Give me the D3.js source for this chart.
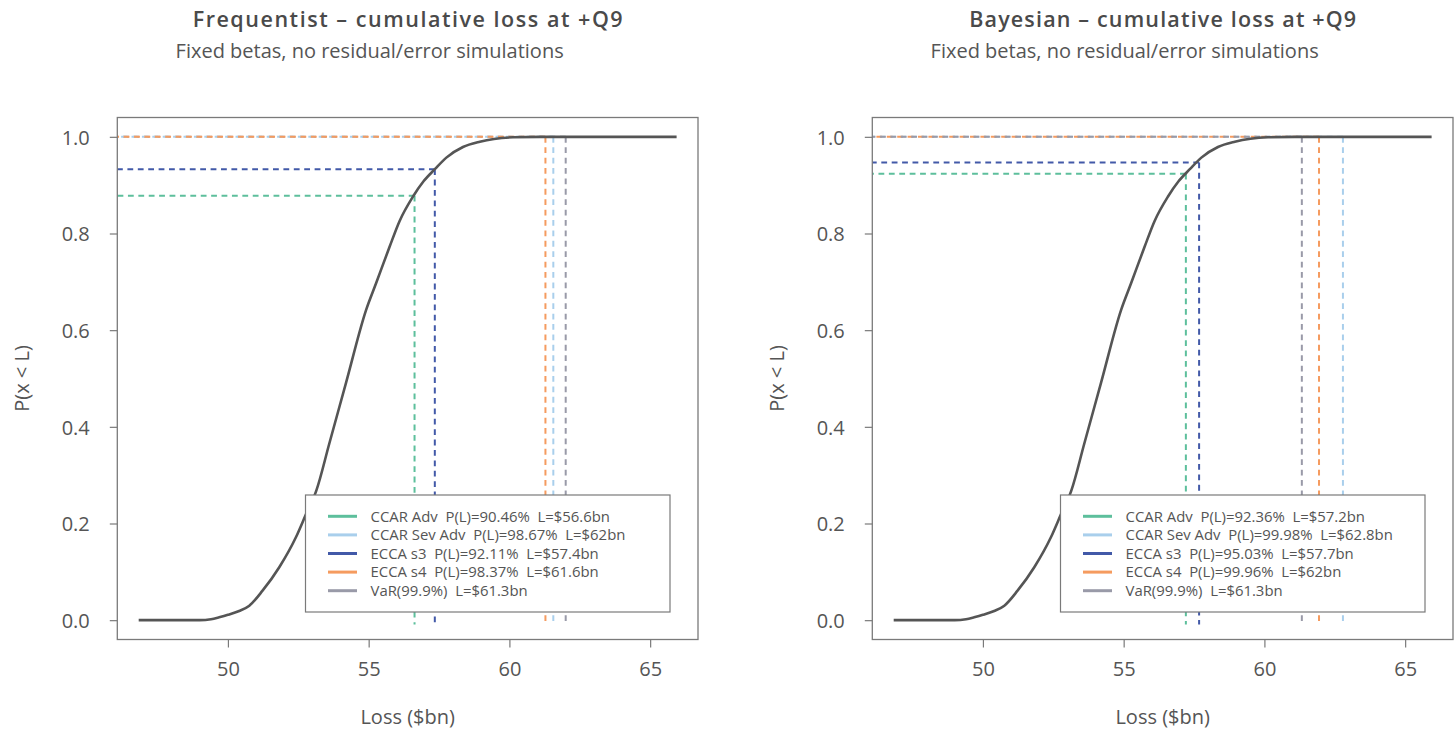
<!DOCTYPE html>
<html><head><meta charset="utf-8">
<script src="https://cdn.jsdelivr.net/npm/d3@7"></script>
<style>
body{margin:0;background:#fff}
text{font-family:"Open Sans",sans-serif}
</style>
</head><body><svg id="c" width="1455" height="734"></svg>
<script>
// ---- data ----
const lossX = [46.83, 48.0, 49.0, 49.4, 49.69, 50.0, 50.4, 50.76, 51.23, 51.83, 52.42, 52.78, 53.14, 53.6, 54.2, 54.91, 55.27, 55.74, 56.10, 56.57, 56.95, 57.35, 57.76, 58.35, 58.95, 60.13, 61.08, 65.94];
const cumP  = [0, 0, 0, 0.002, 0.006, 0.011, 0.019, 0.030, 0.061, 0.110, 0.172, 0.220, 0.268, 0.365, 0.492, 0.642, 0.698, 0.772, 0.826, 0.876, 0.908, 0.933, 0.957, 0.979, 0.990, 0.999, 1.0, 1.0];
const xTicks = [50, 55, 60, 65];
const yTicks = [0, 0.2, 0.4, 0.6, 0.8, 1.0];
const yTickLabels = ["0.0", "0.2", "0.4", "0.6", "0.8", "1.0"];
const legendColors = ["#5dbf9c", "#a9cfec", "#4259a8", "#f59b5f", "#999aa8"];

const freqTitle = "Frequentist \u2013 cumulative loss at +Q9";
const bayesTitle = "Bayesian \u2013 cumulative loss at +Q9";
const subTitle = "Fixed betas, no residual/error simulations";

const freqLegend = ["CCAR Adv  P(L)=90.46%  L=$56.6bn", "CCAR Sev Adv  P(L)=98.67%  L=$62bn", "ECCA s3  P(L)=92.11%  L=$57.4bn", "ECCA s4  P(L)=98.37%  L=$61.6bn", "VaR(99.9%)  L=$61.3bn"];
const bayesLegend = ["CCAR Adv  P(L)=92.36%  L=$57.2bn", "CCAR Sev Adv  P(L)=99.98%  L=$62.8bn", "ECCA s3  P(L)=95.03%  L=$57.7bn", "ECCA s4  P(L)=99.96%  L=$62bn", "VaR(99.9%)  L=$61.3bn"];

// reference markers as drawn (loss, probability, colour)
const freqMarkL = [56.63, 57.35, 62.0, 61.56, 61.28];
const freqMarkP = [0.878, 0.933, 1.0, 1.0, 1.0];
const freqMarkC = ["#5dbf9c", "#4259a8", "#999aa8", "#a9cfec", "#f59b5f"];
const bayesMarkL = [57.21, 57.68, 62.79, 61.94, 61.33];
const bayesMarkP = [0.9236, 0.947, 1.0, 1.0, 1.0];
const bayesMarkC = ["#5dbf9c", "#4259a8", "#a9cfec", "#f59b5f", "#999aa8"];

const xDomain = [46.07, 66.70];
const yDomain = [-0.04, 1.04];
const markBottom = -0.009;

// ---- drawing ----
const svg = d3.select("#c");
const txt = "#555";

function panel(ox, title, titleWidth, legend, mL, mP, mC) {
  const L = ox, R = ox + 580.7, T = 117.5, B = 639.5;
  const x = d3.scaleLinear().domain(xDomain).range([L, R]);
  const y = d3.scaleLinear().domain(yDomain).range([B, T]);
  const g = svg.append("g");
  const cx = (L + R) / 2;

  g.append("text").attr("x", cx).attr("y", 27).attr("text-anchor", "middle")
    .attr("font-size", 21.5).attr("font-weight", 600).attr("fill", "#4a4a4a")
    .attr("textLength", titleWidth).attr("lengthAdjust", "spacing").text(title);
  g.append("text").attr("x", cx - 38).attr("y", 58).attr("text-anchor", "middle")
    .attr("font-size", 20).attr("fill", txt).text(subTitle);

  // reference lines: horizontal (drawn from marker leftwards) and vertical
  mL.forEach((v, i) => {
    g.append("path").attr("d", d3.line()([[x(v), y(mP[i])], [L, y(mP[i])]]))
      .attr("stroke", mC[i]).attr("stroke-width", 2).attr("fill", "none")
      .attr("stroke-dasharray", "5.8,4.6");
  });
  mL.forEach((v, i) => {
    g.append("path").attr("d", d3.line()([[x(v), y(mP[i])], [x(v), y(markBottom)]]))
      .attr("stroke", mC[i]).attr("stroke-width", 2).attr("fill", "none")
      .attr("stroke-dasharray", "5.8,4.6");
  });

  // cumulative curve
  const pts = lossX.map((d, i) => [d, cumP[i]]);
  g.append("path").datum(pts)
    .attr("d", d3.line().x(d => x(d[0])).y(d => y(d[1])).curve(d3.curveMonotoneX))
    .attr("fill", "none").attr("stroke", "#555").attr("stroke-width", 2.6);

  // frame
  g.append("rect").attr("x", L).attr("y", T).attr("width", R - L).attr("height", B - T)
    .attr("fill", "none").attr("stroke", "#7a7a7a").attr("stroke-width", 1.3);

  // axes
  const xa = g.append("g").attr("transform", `translate(0,${B})`)
    .call(d3.axisBottom(x).tickValues(xTicks).tickSize(8).tickPadding(14));
  const ya = g.append("g").attr("transform", `translate(${L},0)`)
    .call(d3.axisLeft(y).tickValues(yTicks).tickFormat((d, i) => yTickLabels[i]).tickSize(7.5).tickPadding(20));
  [xa, ya].forEach(a => {
    a.select(".domain").remove();
    a.selectAll("line").attr("stroke", "#7a7a7a").attr("stroke-width", 1.2);
    a.selectAll("text").attr("font-size", 20).attr("fill", txt).attr("font-family", "Open Sans, sans-serif");
  });
  ya.selectAll("text").attr("dy", "0.36em");

  g.append("text").attr("x", cx).attr("y", 724).attr("text-anchor", "middle")
    .attr("font-size", 20).attr("fill", txt).text("Loss ($bn)");
  g.append("text").attr("transform", `translate(${ox - 88},${(T + B) / 2}) rotate(-90)`)
    .attr("text-anchor", "middle").attr("font-size", 20).attr("fill", txt).text("P(x < L)");

  // legend
  const lw = 364.5, lh = 117;
  const lx = R - 28 - lw, ly = B - 27.5 - lh;
  const lg = g.append("g");
  lg.append("rect").attr("x", lx).attr("y", ly).attr("width", lw).attr("height", lh)
    .attr("fill", "#fff").attr("stroke", "#7a7a7a").attr("stroke-width", 1.2);
  legend.forEach((s, i) => {
    const yy = ly + 21.3 + i * 18.6;
    lg.append("line").attr("x1", lx + 22.5).attr("x2", lx + 51.5).attr("y1", yy).attr("y2", yy)
      .attr("stroke", legendColors[i]).attr("stroke-width", 3);
    lg.append("text").attr("x", lx + 65).attr("y", yy).attr("dy", "0.35em")
      .attr("font-size", 14.9).attr("fill", txt).style("white-space", "pre").text(s);
  });
}

panel(117.3, freqTitle, 430, freqLegend, freqMarkL, freqMarkP, freqMarkC);
panel(872.3, bayesTitle, 387, bayesLegend, bayesMarkL, bayesMarkP, bayesMarkC);
</script>
</body></html>
